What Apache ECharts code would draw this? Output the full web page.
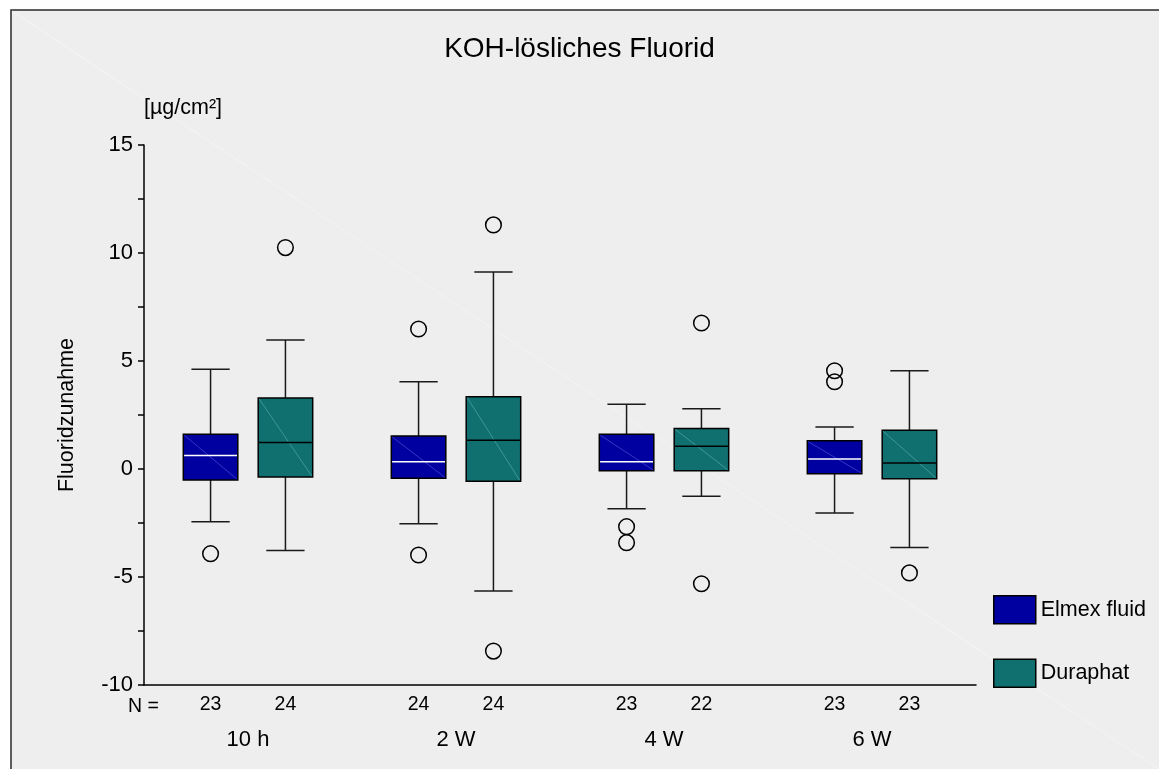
<!DOCTYPE html>
<html>
<head>
<meta charset="utf-8">
<script src="https://cdn.jsdelivr.net/npm/echarts@6/dist/echarts.min.js"></script>
<style>html,body{margin:0;padding:0;background:#fff}#c{width:1159px;height:769px}</style>
</head>
<body>
<div id="c"></div>
<script>
// ---- data ----
const categories = ['10 h', '2 W', '4 W', '6 W'];
const seriesNames = ['Elmex fluid', 'Duraphat'];
// [low whisker, Q1, median, Q3, high whisker]
const elmexStats = [
  [-2.44, -0.51, 0.63, 1.61, 4.62],
  [-2.53, -0.43, 0.34, 1.53, 4.04],
  [-1.84, -0.08, 0.34, 1.61, 3.00],
  [-2.04, -0.22, 0.46, 1.31, 1.94]
];
const duraphatStats = [
  [-3.77, -0.37, 1.23, 3.29, 5.97],
  [-5.65, -0.57, 1.33, 3.35, 9.12],
  [-1.26, -0.08, 1.05, 1.88, 2.79],
  [-3.63, -0.45, 0.28, 1.79, 4.55]
];
const elmexN = [23, 24, 23, 23];
const duraphatN = [24, 24, 22, 23];
// [category index, value]
const elmexOutliers = [[0, -3.92], [1, -3.98], [1, 6.48], [2, -2.67], [2, -3.41], [3, 4.55], [3, 4.04]];
const duraphatOutliers = [[0, 10.25], [1, 11.30], [1, -8.43], [2, 6.76], [2, -5.31], [3, -4.81]];
const yMin = -10, yMax = 15, yInterval = 5;
const titleText = 'KOH-lösliches Fluorid';
const yUnit = '[µg/cm²]';
const yTitle = 'Fluoridzunahme';
const nLabel = 'N =';

const FONT = 'Liberation Sans, Arial, Helvetica, sans-serif';
const C_ELMEX = '#0000a0', C_DURA = '#107070';

function boxData(stats, ns) {
  return stats.map((s, i) => [i].concat(s).concat([ns[i]]));
}

function boxRenderer(offsetFrac, fill, medianColor, diagColor) {
  return function (params, api) {
    const cat = api.value(0);
    const bw = api.size([1, 0])[0];
    const cx = api.coord([cat, 0])[0] + offsetFrac * bw;
    const yLow = api.coord([cat, api.value(1)])[1];
    const yQ1 = api.coord([cat, api.value(2)])[1];
    const yMed = api.coord([cat, api.value(3)])[1];
    const yQ3 = api.coord([cat, api.value(4)])[1];
    const yHigh = api.coord([cat, api.value(5)])[1];
    const yAxisBottom = api.coord([cat, yMin])[1];
    const half = bw * 0.131, capHalf = bw * 0.092;
    const ln = '#1a1a1a';
    const lstyle = { stroke: ln, lineWidth: 1.5 };
    return {
      type: 'group',
      children: [
        { type: 'line', shape: { x1: cx, y1: yQ3, x2: cx, y2: yHigh }, style: lstyle },
        { type: 'line', shape: { x1: cx - capHalf, y1: yHigh, x2: cx + capHalf, y2: yHigh }, style: lstyle },
        { type: 'line', shape: { x1: cx, y1: yQ1, x2: cx, y2: yLow }, style: lstyle },
        { type: 'line', shape: { x1: cx - capHalf, y1: yLow, x2: cx + capHalf, y2: yLow }, style: lstyle },
        { type: 'rect', shape: { x: cx - half, y: yQ3, width: 2 * half, height: yQ1 - yQ3 },
          style: { fill: fill, stroke: '#000', lineWidth: 1.5 } },
        { type: 'line', shape: { x1: cx - half + 1, y1: yQ3 + 1, x2: cx + half - 1, y2: yQ1 - 1 },
          style: { stroke: diagColor, lineWidth: 0.6 } },
        { type: 'line', shape: { x1: cx - half + 0.8, y1: yMed, x2: cx + half - 0.8, y2: yMed },
          style: { stroke: medianColor, lineWidth: 1.5 } },
        { type: 'text', x: cx, y: yAxisBottom + 20,
          style: { text: String(api.value(6)), align: 'center', verticalAlign: 'middle',
                   fontSize: 19.5, fontFamily: FONT, fill: '#000' } }
      ]
    };
  };
}

function outlierRenderer(offsetFrac) {
  return function (params, api) {
    const cat = api.value(0);
    const bw = api.size([1, 0])[0];
    const p = api.coord([cat, api.value(1)]);
    return { type: 'circle', shape: { cx: p[0] + offsetFrac * bw, cy: p[1], r: 7.8 },
             style: { fill: 'none', stroke: '#000', lineWidth: 1.5 } };
  };
}

const chart = echarts.init(document.getElementById('c'), null, { renderer: 'canvas' });
const axisCol = '#000';
chart.setOption({
  backgroundColor: '#ffffff',
  animation: false,
  textStyle: { fontFamily: FONT },
  graphic: [
    { type: 'rect', z: -100, silent: true, shape: { x: 11, y: 10, width: 1170, height: 780 },
      style: { fill: '#eeeeee', stroke: '#2a2a2a', lineWidth: 1.5 } },
    { type: 'line', z: -99, silent: true, shape: { x1: 12, y1: 11, x2: 1159, y2: 769 },
      style: { stroke: '#f4f4f4', lineWidth: 1 } }
  ],
  title: [
    { text: titleText, left: 'center', top: 35, padding: 0,
      textStyle: { fontSize: 28, fontWeight: 'normal', color: '#000', fontFamily: FONT } },
    { text: nLabel, left: 128, top: 697, padding: 0,
      textStyle: { fontSize: 19.5, fontWeight: 'normal', color: '#000', fontFamily: FONT } }
  ],
  legend: {
    orient: 'vertical', left: 993, top: 595, padding: 0,
    itemWidth: 42, itemHeight: 28, itemGap: 34,
    textStyle: { fontSize: 21.5, color: '#000', fontFamily: FONT },
    data: [
      { name: seriesNames[0], icon: 'rect', itemStyle: { color: C_ELMEX, borderColor: '#000', borderWidth: 1.5 } },
      { name: seriesNames[1], icon: 'rect', itemStyle: { color: C_DURA, borderColor: '#000', borderWidth: 1.5 } }
    ]
  },
  grid: { left: 144, top: 145, width: 832, height: 540, containLabel: false },
  xAxis: {
    type: 'category', data: categories, boundaryGap: true,
    axisLine: { onZero: false, lineStyle: { color: axisCol, width: 1.5 } },
    axisTick: { alignWithLabel: true, length: 5, lineStyle: { color: axisCol, width: 1.5 } },
    axisLabel: { fontSize: 22, color: '#000', margin: 44, fontFamily: FONT },
    splitLine: { show: false }
  },
  yAxis: [
    {
      type: 'value', min: yMin, max: yMax, interval: yInterval,
      name: yUnit, nameLocation: 'end', nameGap: 37,
      nameTextStyle: { fontSize: 21.5, color: '#000', align: 'left', verticalAlign: 'middle', fontFamily: FONT },
      axisLine: { show: true, lineStyle: { color: axisCol, width: 1.5 } },
      axisTick: { show: true, length: 6, lineStyle: { color: axisCol, width: 1.5 } },
      minorTick: { show: true, splitNumber: 2, length: 6, lineStyle: { color: axisCol, width: 1.5 } },
      axisLabel: { fontSize: 22, color: '#000', margin: 11, fontFamily: FONT },
      splitLine: { show: false }
    },
    {
      type: 'value', min: yMin, max: yMax, interval: yInterval, position: 'left',
      name: yTitle, nameLocation: 'middle', nameGap: 66, nameRotate: 90,
      nameTextStyle: { fontSize: 21.5, color: '#000', fontFamily: FONT },
      axisLine: { show: false }, axisTick: { show: false }, axisLabel: { show: false },
      splitLine: { show: false }
    }
  ],
  series: [
    { name: seriesNames[0], type: 'custom', renderItem: boxRenderer(-0.18, C_ELMEX, '#ffffff', '#5a5ae0'),
      data: boxData(elmexStats, elmexN), encode: { x: 0, y: [1, 2, 3, 4, 5] }, itemStyle: { color: C_ELMEX }, z: 3 },
    { name: seriesNames[1], type: 'custom', renderItem: boxRenderer(0.18, C_DURA, '#000000', '#5fb0b0'),
      data: boxData(duraphatStats, duraphatN), encode: { x: 0, y: [1, 2, 3, 4, 5] }, itemStyle: { color: C_DURA }, z: 3 },
    { name: seriesNames[0], type: 'custom', renderItem: outlierRenderer(-0.18),
      data: elmexOutliers, encode: { x: 0, y: 1 }, itemStyle: { color: C_ELMEX }, z: 4 },
    { name: seriesNames[1], type: 'custom', renderItem: outlierRenderer(0.18),
      data: duraphatOutliers, encode: { x: 0, y: 1 }, itemStyle: { color: C_DURA }, z: 4 }
  ]
});
</script>
</body>
</html>
